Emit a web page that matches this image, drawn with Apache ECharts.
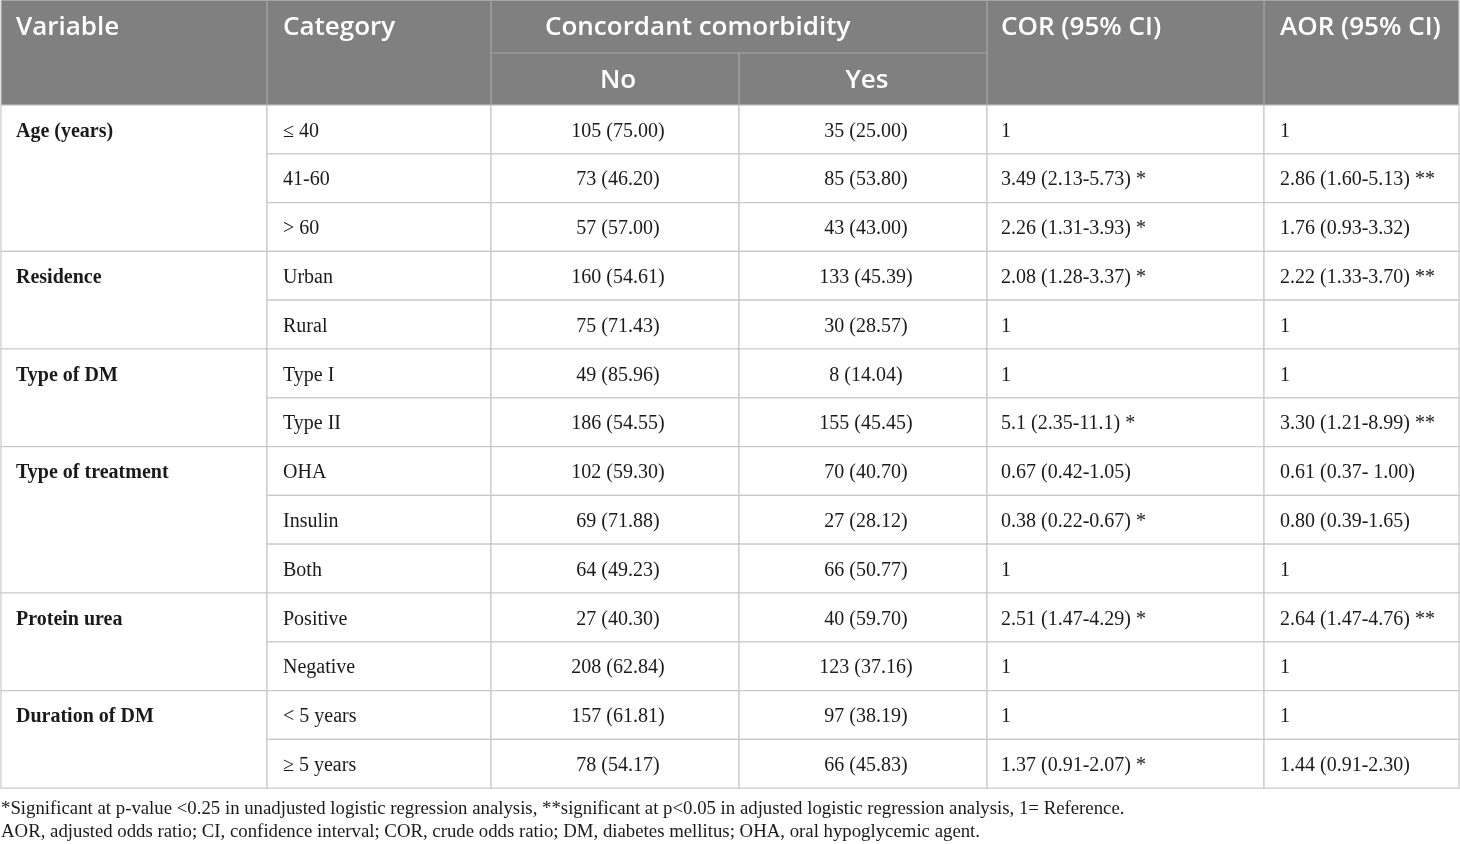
<!DOCTYPE html>
<html>
<head>
<meta charset="utf-8">
<script src="https://cdn.jsdelivr.net/npm/echarts@6/dist/echarts.min.js"></script>
<style>
  html, body { margin: 0; padding: 0; background: #ffffff; }
  #chart { width: 1460px; height: 844px; }
</style>
</head>
<body>
<div id="chart"></div>
<script>
// ---------- data ----------
const headerTop = ['Variable', 'Category', 'Concordant comorbidity', 'COR (95% CI)', 'AOR (95% CI)'];
const headerSub = ['No', 'Yes'];
const variables = ['Age (years)', 'Residence', 'Type of DM', 'Type of treatment', 'Protein urea', 'Duration of DM'];
const groupSizes = [3, 2, 2, 3, 2, 2];
const categories = ['≤ 40', '41-60', '> 60', 'Urban', 'Rural', 'Type I', 'Type II', 'OHA', 'Insulin', 'Both', 'Positive', 'Negative', '< 5 years', '≥ 5 years'];
const noCounts = [105, 73, 57, 160, 75, 49, 186, 102, 69, 64, 27, 208, 157, 78];
const noPct = ['75.00', '46.20', '57.00', '54.61', '71.43', '85.96', '54.55', '59.30', '71.88', '49.23', '40.30', '62.84', '61.81', '54.17'];
const yesCounts = [35, 85, 43, 133, 30, 8, 155, 70, 27, 66, 40, 123, 97, 66];
const yesPct = ['25.00', '53.80', '43.00', '45.39', '28.57', '14.04', '45.45', '40.70', '28.12', '50.77', '59.70', '37.16', '38.19', '45.83'];
const cor = ['1', '3.49 (2.13-5.73) *', '2.26 (1.31-3.93) *', '2.08 (1.28-3.37) *', '1', '1', '5.1 (2.35-11.1) *', '0.67 (0.42-1.05)', '0.38 (0.22-0.67) *', '1', '2.51 (1.47-4.29) *', '1', '1', '1.37 (0.91-2.07) *'];
const aor = ['1', '2.86 (1.60-5.13) **', '1.76 (0.93-3.32)', '2.22 (1.33-3.70) **', '1', '1', '3.30 (1.21-8.99) **', '0.61 (0.37- 1.00)', '0.80 (0.39-1.65)', '1', '2.64 (1.47-4.76) **', '1', '1', '1.44 (0.91-2.30)'];
const footnotes = [
  '*Significant at p-value <0.25 in unadjusted logistic regression analysis, **significant at p<0.05 in adjusted logistic regression analysis, 1= Reference.',
  'AOR, adjusted odds ratio; CI, confidence interval; COR, crude odds ratio; DM, diabetes mellitus; OHA, oral hypoglycemic agent.'
];

// ---------- layout (table geometry, in axis units = px) ----------
const COL_EDGES = [1, 267, 491, 739, 987, 1264, 1459];
const HEAD_SPLIT = 53, BODY_TOP = 105, ROW_H = 48.8;
const PAD = 16;
const LINE = '#c9c9c9', HEAD_BG = '#808080', HEAD_LINE = '#a6a6a6';
const BODY_FONT = '20px "Liberation Serif", "Times New Roman", serif';
const BOLD_FONT = 'bold 20px "Liberation Serif", "Times New Roman", serif';
const HEAD_FONT = '600 26px "Open Sans", "Noto Sans", sans-serif';
const TEXT_DY = 2;

// first row of each variable group
const groupStart = [];
(function () { let s = 0; groupSizes.forEach(n => { groupStart.push(s); s += n; }); })();

function txt(x, y, text, font, fill, align) {
  return { type: 'text', style: { text: text, x: x, y: y, font: font, fill: fill,
    textAlign: align, textVerticalAlign: 'middle', align: align, verticalAlign: 'middle' } };
}
function box(p0, p1, fill, stroke) {
  return { type: 'rect', shape: { x: p0[0], y: p0[1], width: p1[0] - p0[0], height: p1[1] - p0[1] },
    style: { fill: fill, stroke: stroke, lineWidth: 1.2 } };
}
function seg(a, b, stroke) {
  return { type: 'line', shape: { x1: a[0], y1: a[1], x2: b[0], y2: b[1] }, style: { stroke: stroke, lineWidth: 1.2 } };
}

function renderHeader(params, api) {
  const c = (x, y) => api.coord([x, y]);
  const ch = [];
  ch.push(box(c(COL_EDGES[0], 0), c(COL_EDGES[6], BODY_TOP), HEAD_BG, LINE));
  [1, 2, 4, 5].forEach(k => ch.push(seg(c(COL_EDGES[k], 0), c(COL_EDGES[k], BODY_TOP), HEAD_LINE)));
  ch.push(seg(c(COL_EDGES[3], HEAD_SPLIT), c(COL_EDGES[3], BODY_TOP), HEAD_LINE));
  ch.push(seg(c(COL_EDGES[2], HEAD_SPLIT), c(COL_EDGES[4], HEAD_SPLIT), HEAD_LINE));
  const midTop = c(0, HEAD_SPLIT / 2)[1] + 1.5;
  const midSub = c(0, (HEAD_SPLIT + BODY_TOP) / 2)[1] + 1.5;
  ch.push(txt(c(COL_EDGES[0] + PAD - 1, 0)[0], midTop, headerTop[0], HEAD_FONT, '#fff', 'left'));
  ch.push(txt(c(COL_EDGES[1] + PAD, 0)[0], midTop, headerTop[1], HEAD_FONT, '#fff', 'left'));
  ch.push(txt(c(COL_EDGES[2] + 54, 0)[0], midTop, headerTop[2], HEAD_FONT, '#fff', 'left'));
  ch.push(txt(c(COL_EDGES[4] + PAD - 2, 0)[0], midTop, headerTop[3], HEAD_FONT, '#fff', 'left'));
  ch.push(txt(c(COL_EDGES[5] + PAD, 0)[0], midTop, headerTop[4], HEAD_FONT, '#fff', 'left'));
  ch.push(txt(c((COL_EDGES[2] + COL_EDGES[3]) / 2 + 3, 0)[0], midSub, headerSub[0], HEAD_FONT, '#fff', 'center'));
  ch.push(txt(c((COL_EDGES[3] + COL_EDGES[4]) / 2 + 4, 0)[0], midSub, headerSub[1], HEAD_FONT, '#fff', 'center'));
  return { type: 'group', children: ch };
}

function renderRow(params, api) {
  const i = api.value(0);
  const c = (x, y) => api.coord([x, y]);
  const top = BODY_TOP + i * ROW_H, bot = top + ROW_H;
  const midY = c(0, top + ROW_H / 2)[1] + TEXT_DY;
  const ch = [];
  const g = groupStart.indexOf(i);
  if (g >= 0) {
    const gb = BODY_TOP + (i + groupSizes[g]) * ROW_H;
    ch.push(box(c(COL_EDGES[0], top), c(COL_EDGES[1], gb), '#fff', LINE));
    ch.push(txt(c(COL_EDGES[0] + PAD - 1, 0)[0], midY, variables[g], BOLD_FONT, '#1a1a1a', 'left'));
  }
  for (let k = 1; k < 6; k++) {
    ch.push(box(c(COL_EDGES[k], top), c(COL_EDGES[k + 1], bot), '#fff', LINE));
  }
  ch.push(txt(c(COL_EDGES[1] + PAD, 0)[0], midY, categories[i], BODY_FONT, '#1a1a1a', 'left'));
  ch.push(txt(c((COL_EDGES[2] + COL_EDGES[3]) / 2 + 3, 0)[0], midY, noCounts[i] + ' (' + noPct[i] + ')', BODY_FONT, '#1a1a1a', 'center'));
  ch.push(txt(c((COL_EDGES[3] + COL_EDGES[4]) / 2 + 3, 0)[0], midY, yesCounts[i] + ' (' + yesPct[i] + ')', BODY_FONT, '#1a1a1a', 'center'));
  ch.push(txt(c(COL_EDGES[4] + PAD - 2, 0)[0], midY, cor[i], BODY_FONT, '#1a1a1a', 'left'));
  ch.push(txt(c(COL_EDGES[5] + PAD, 0)[0], midY, aor[i], BODY_FONT, '#1a1a1a', 'left'));
  return { type: 'group', children: ch };
}

const chart = echarts.init(document.getElementById('chart'), null, { renderer: 'canvas' });
chart.setOption({
  animation: false,
  backgroundColor: '#ffffff',
  title: {
    text: footnotes.join('\n'),
    left: 1, top: 798, padding: 0,
    textStyle: { fontFamily: '"Liberation Serif", "Times New Roman", serif', fontSize: 18.8, fontWeight: 'normal', color: '#1a1a1a', lineHeight: 23 }
  },
  grid: { left: 0, top: 0, width: 1460, height: 844 },
  xAxis: { type: 'value', min: 0, max: 1460, show: false },
  yAxis: { type: 'value', min: 0, max: 844, inverse: true, show: false },
  series: [
    { type: 'custom', clip: false, renderItem: renderRow, data: categories.map((_, i) => [i]), z: 2 },
    { type: 'custom', clip: false, renderItem: renderHeader, data: [[0]], z: 3 }
  ]
});
</script>
</body>
</html>
